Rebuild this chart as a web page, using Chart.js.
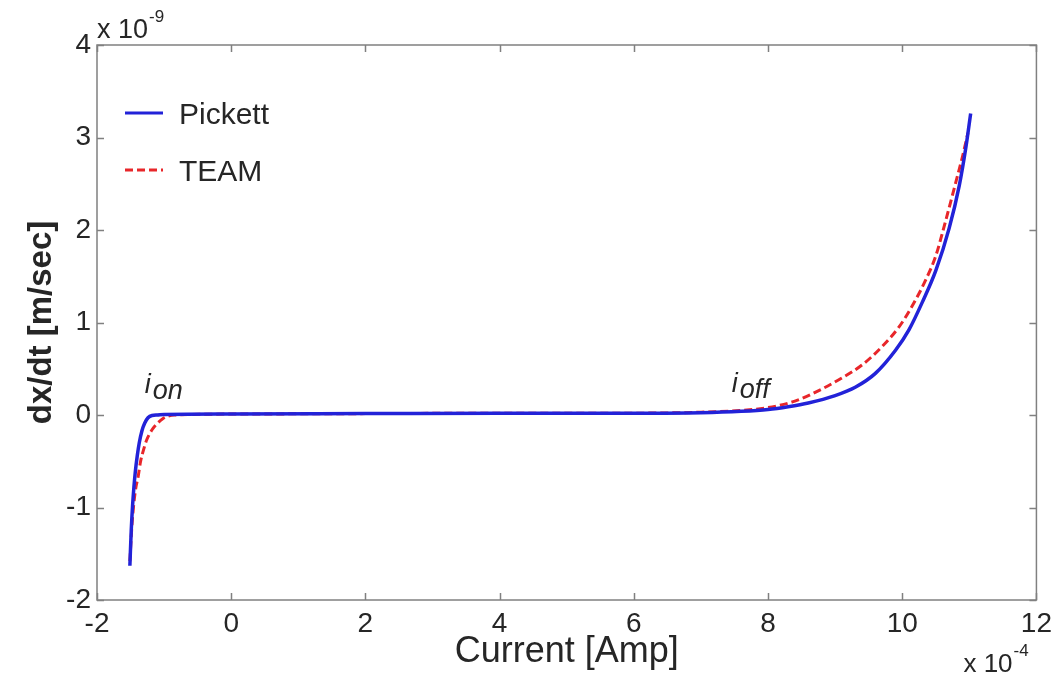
<!DOCTYPE html>
<html>
<head>
<meta charset="utf-8">
<title>dx/dt vs Current</title>
<script src="https://cdn.jsdelivr.net/npm/chart.js@4.4.0/dist/chart.umd.min.js"></script>
<style>
  html, body { margin: 0; padding: 0; background: #fff; }
  #wrap { width: 1059px; height: 675px; }
</style>
</head>
<body>
<div id="wrap"><canvas id="chart" width="1059" height="675"></canvas></div>
<script>
// ── Data (current in 1e-4 A, dx/dt in 1e-9 m/s) ─────────
const pickettCurrent = [-1.51, -1.49, -1.47, -1.45, -1.43, -1.40, -1.37, -1.33, -1.29, -1.24, -1.18, -1.10, -1.0,
    0, 2, 4, 6, 7, 7.6, 8.0, 8.3, 8.6, 9.0, 9.3, 9.6, 9.9, 10.1, 10.3, 10.5, 10.7, 10.85, 10.95, 11.02];
const pickettRate = [-1.63, -1.25, -0.98, -0.78, -0.62, -0.44, -0.30, -0.17, -0.09, -0.03, -0.005, 0.0, 0.005,
    0.01, 0.015, 0.02, 0.02, 0.025, 0.04, 0.06, 0.09, 0.13, 0.21, 0.30, 0.45, 0.70, 0.92, 1.22, 1.56, 2.02, 2.48, 2.90, 3.26];

const teamCurrent = [-1.51, -1.48, -1.45, -1.42, -1.39, -1.35, -1.30, -1.26, -1.18, -1.10, -1.02, -0.95, -0.85,
    0, 2, 4, 6, 7, 7.6, 8.0, 8.4, 8.8, 9.1, 9.4, 9.7, 9.95, 10.15, 10.35, 10.5, 10.64, 10.8, 10.9, 10.98];
const teamRate = [-1.58, -1.20, -0.95, -0.78, -0.68, -0.50, -0.36, -0.27, -0.16, -0.09, -0.04, -0.015, 0.0,
    0.01, 0.015, 0.02, 0.02, 0.03, 0.05, 0.08, 0.15, 0.28, 0.40, 0.54, 0.74, 0.95, 1.18, 1.46, 1.72, 2.08, 2.52, 2.80, 3.05];

const seriesNames = ['Pickett', 'TEAM'];
const xTickValues = [-2, 0, 2, 4, 6, 8, 10, 12];
const yTickValues = [-2, -1, 0, 1, 2, 3, 4];

const FONT = "'Liberation Sans', Arial, sans-serif";
const TEXT = '#262626';

const toPoints = (xs, ys) => xs.map((v, i) => ({ x: v, y: ys[i] }));

// ── Axes box with inward ticks (MATLAB style) ───────────
const framePlugin = {
    id: 'frame',
    beforeDatasetsDraw(chart) {
        const { ctx, chartArea: a, scales: { x, y } } = chart;
        const tl = 7;
        ctx.save();
        ctx.strokeStyle = '#808080';
        ctx.lineWidth = 1.5;
        ctx.strokeRect(a.left, a.top, a.right - a.left, a.bottom - a.top);
        ctx.beginPath();
        x.ticks.forEach(t => {
            const px = Math.round(x.getPixelForValue(t.value)) + 0.5;
            ctx.moveTo(px, a.bottom); ctx.lineTo(px, a.bottom - tl);
            ctx.moveTo(px, a.top); ctx.lineTo(px, a.top + tl);
        });
        y.ticks.forEach(t => {
            const py = Math.round(y.getPixelForValue(t.value)) + 0.5;
            ctx.moveTo(a.left, py); ctx.lineTo(a.left + tl, py);
            ctx.moveTo(a.right, py); ctx.lineTo(a.right - tl, py);
        });
        ctx.stroke();
        ctx.restore();
    }
};

// ── Legend, exponents and i_on / i_off labels ───────────
const overlayPlugin = {
    id: 'overlay',
    afterDraw(chart) {
        const { ctx, chartArea: a, scales: { x, y } } = chart;
        ctx.save();
        ctx.fillStyle = TEXT;
        ctx.textBaseline = 'alphabetic';
        ctx.textAlign = 'left';

        // legend inside the axes, top-left
        chart.data.datasets.forEach((ds, i) => {
            const ly = a.top + 68 + i * 57;
            ctx.strokeStyle = ds.borderColor;
            ctx.lineWidth = 3;
            ctx.setLineDash(ds.borderDash || []);
            ctx.beginPath();
            ctx.moveTo(a.left + 28, ly);
            ctx.lineTo(a.left + 66, ly);
            ctx.stroke();
            ctx.setLineDash([]);
            ctx.font = `30px ${FONT}`;
            ctx.fillText(ds.label, a.left + 82, ly + 11);
        });

        // exponent labels: base text then a raised power
        const power = (base, exp, px, py, size, expSize, rise) => {
            ctx.font = `${size}px ${FONT}`;
            ctx.fillText(base, px, py);
            const w = ctx.measureText(base).width;
            ctx.font = `${expSize}px ${FONT}`;
            ctx.fillText(exp, px + w + 1, py - rise);
        };
        power('x 10', '-9', a.left, a.top - 7, 27, 17, 16);
        power('x 10', '-4', a.right - 73, a.bottom + 72, 26, 17, 16);

        // i_on and i_off
        const mark = (base, sub, vx, vy) => {
            const px = x.getPixelForValue(vx);
            const py = y.getPixelForValue(vy);
            ctx.font = `italic 27px ${FONT}`;
            ctx.fillText(base, px, py);
            const w = ctx.measureText(base).width;
            ctx.font = `italic 27px ${FONT}`;
            ctx.fillText(sub, px + w + 2, py + 6);
        };
        mark('i', 'on', -1.29, 0.24);
        mark('i', 'off', 7.46, 0.25);
        ctx.restore();
    }
};

// ── Chart ───────────────────────────────────────────────
new Chart(document.getElementById('chart'), {
    type: 'scatter',
    data: {
        datasets: [
            {
                label: seriesNames[0],
                data: toPoints(pickettCurrent, pickettRate),
                showLine: true,
                borderColor: '#2222d8',
                borderWidth: 3.5,
                pointRadius: 0,
                cubicInterpolationMode: 'monotone'
            },
            {
                label: seriesNames[1],
                data: toPoints(teamCurrent, teamRate),
                showLine: true,
                borderColor: '#e8262a',
                borderWidth: 3,
                borderDash: [8, 4],
                pointRadius: 0,
                cubicInterpolationMode: 'monotone'
            }
        ]
    },
    options: {
        responsive: false,
        animation: false,
        layout: { padding: { top: 45, right: 21, left: 0, bottom: 0 } },
        plugins: {
            legend: { display: false },
            tooltip: { enabled: false }
        },
        scales: {
            x: {
                type: 'linear',
                min: -2,
                max: 12,
                afterBuildTicks: s => { s.ticks = xTickValues.map(v => ({ value: v })); },
                afterFit: s => { s.height = 75; },
                grid: { drawOnChartArea: false, drawTicks: false },
                border: { display: false },
                ticks: { color: TEXT, padding: 7, font: { family: FONT, size: 28 } },
                title: {
                    display: true,
                    text: 'Current [Amp]',
                    color: TEXT,
                    padding: { top: 0, bottom: 1 },
                    font: { family: FONT, size: 36 }
                }
            },
            y: {
                type: 'linear',
                min: -2,
                max: 4,
                afterBuildTicks: s => { s.ticks = yTickValues.map(v => ({ value: v })); },
                afterFit: s => { s.width = 97; },
                grid: { drawOnChartArea: false, drawTicks: false },
                border: { display: false },
                ticks: { color: TEXT, padding: 6, font: { family: FONT, size: 28 } },
                title: {
                    display: true,
                    text: 'dx/dt [m/sec]',
                    color: TEXT,
                    padding: { top: 22, bottom: 0 },
                    font: { family: FONT, size: 33, weight: 'bold' }
                }
            }
        }
    },
    plugins: [framePlugin, overlayPlugin]
});
</script>
</body>
</html>
